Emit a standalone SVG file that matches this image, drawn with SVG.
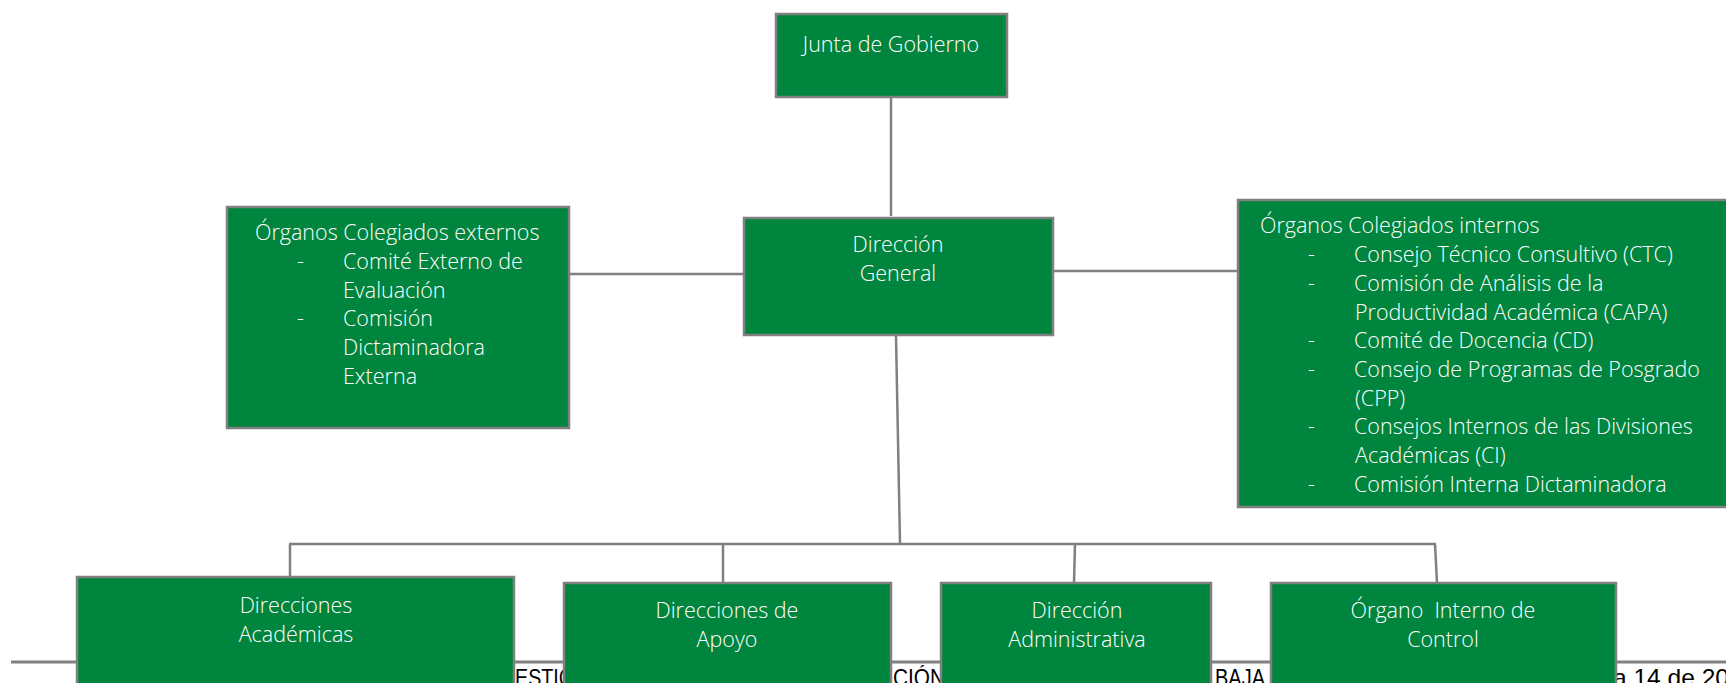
<svg xmlns="http://www.w3.org/2000/svg" width="1726" height="683" viewBox="0 0 1726 683">
<style>
.box{fill:#00853e;stroke:#808080;stroke-width:2.5}
.t{font-family:"Open Sans","Noto Sans","DejaVu Sans",sans-serif;font-weight:300;font-size:21.5px;fill:#ffffff}
.c{text-anchor:middle}
.con{stroke:#808080;stroke-width:2.5;fill:none}
.foot{font-family:"Liberation Sans",Arial,sans-serif;font-size:24px;fill:#000000}
</style>
<rect width="1726" height="683" fill="#ffffff"/>
<g id="footer">
<line x1="11" y1="662" x2="1726" y2="662" stroke="#808080" stroke-width="3"/>
<text class="foot" x="515" y="686" textLength="58" lengthAdjust="spacingAndGlyphs">ESTIC</text>
<text class="foot" x="893" y="686" textLength="52" lengthAdjust="spacingAndGlyphs">CIÓN</text>
<text class="foot" x="1215" y="686" textLength="50" lengthAdjust="spacingAndGlyphs">BAJA</text>
<text class="foot" x="1613" y="686" textLength="116" lengthAdjust="spacingAndGlyphs">a 14 de 20</text>
</g>
<g id="connectors">
<line class="con" x1="891" y1="97" x2="891" y2="216"/>
<line class="con" x1="569" y1="274" x2="744" y2="274"/>
<line class="con" x1="1053" y1="271" x2="1238" y2="271"/>
<line class="con" x1="896" y1="336" x2="900" y2="544"/>
<line class="con" x1="289" y1="544" x2="1436" y2="544"/>
<line class="con" x1="290" y1="544" x2="290" y2="577"/>
<line class="con" x1="723" y1="544" x2="723" y2="583"/>
<line class="con" x1="1075" y1="544" x2="1074" y2="583"/>
<line class="con" x1="1435" y1="544" x2="1437" y2="583"/>
</g>
<g id="junta">
<rect class="box" x="776" y="14" width="231" height="83"/>
<text class="t c" x="891" y="52">Junta de Gobierno</text>
</g>
<g id="direccion-general">
<rect class="box" x="744" y="218" width="309" height="117"/>
<text class="t c" x="898" y="252">Dirección</text>
<text class="t c" x="898" y="281">General</text>
</g>
<g id="organos-externos">
<rect class="box" x="227" y="207" width="342" height="221"/>
<text class="t" x="255" y="240">Órganos Colegiados externos</text>
<text class="t" x="297" y="269">-</text>
<text class="t" x="343" y="269">Comité Externo de</text>
<text class="t" x="343" y="298">Evaluación</text>
<text class="t" x="297" y="326">-</text>
<text class="t" x="343" y="326">Comisión</text>
<text class="t" x="343" y="355">Dictaminadora</text>
<text class="t" x="343" y="384">Externa</text>
</g>
<g id="organos-internos">
<rect class="box" x="1238" y="200" width="500" height="307"/>
<text class="t" x="1260" y="233">Órganos Colegiados internos</text>
<text class="t" x="1308" y="262">-</text>
<text class="t" x="1354" y="262">Consejo Técnico Consultivo (CTC)</text>
<text class="t" x="1308" y="291">-</text>
<text class="t" x="1354" y="291">Comisión de Análisis de la</text>
<text class="t" x="1355" y="320">Productividad Académica (CAPA)</text>
<text class="t" x="1308" y="348">-</text>
<text class="t" x="1354" y="348">Comité de Docencia (CD)</text>
<text class="t" x="1308" y="377">-</text>
<text class="t" x="1354" y="377">Consejo de Programas de Posgrado</text>
<text class="t" x="1355" y="406">(CPP)</text>
<text class="t" x="1308" y="434">-</text>
<text class="t" x="1354" y="434">Consejos Internos de las Divisiones</text>
<text class="t" x="1355" y="463">Académicas (CI)</text>
<text class="t" x="1308" y="492">-</text>
<text class="t" x="1354" y="492">Comisión Interna Dictaminadora</text>
</g>
<g id="direcciones-academicas">
<rect class="box" x="77" y="577" width="437" height="120"/>
<text class="t c" x="296" y="613">Direcciones</text>
<text class="t c" x="296" y="642">Académicas</text>
</g>
<g id="direcciones-apoyo">
<rect class="box" x="564" y="583" width="327" height="120"/>
<text class="t c" x="727" y="618">Direcciones de</text>
<text class="t c" x="727" y="647">Apoyo</text>
</g>
<g id="direccion-administrativa">
<rect class="box" x="941" y="583" width="270" height="120"/>
<text class="t c" x="1077" y="618">Dirección</text>
<text class="t c" x="1077" y="647">Administrativa</text>
</g>
<g id="organo-interno-control">
<rect class="box" x="1271" y="583" width="345" height="120"/>
<text class="t c" x="1443" y="618" xml:space="preserve">Órgano  Interno de</text>
<text class="t c" x="1443" y="647">Control</text>
</g>
</svg>
